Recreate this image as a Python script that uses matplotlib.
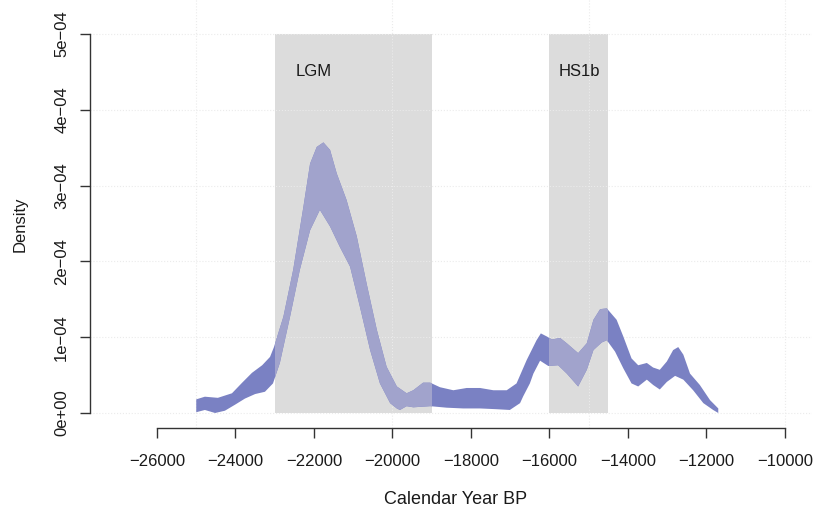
import numpy as np
import matplotlib.pyplot as plt
from matplotlib.patches import Rectangle

plt.rcParams['font.family'] = ['Liberation Sans', 'DejaVu Sans']

# upper / lower envelope of the summed density (units of 1e-4)
years_upper = [-25000, -24780, -24450, -24090, -23830, -23580, -23320, -23120, -23020,
               -22780, -22530, -22270, -22100, -21930, -21760, -21590, -21420, -21170,
               -20910, -20660, -20400, -20150, -19890, -19640, -19470, -19220, -19040,
               -18790, -18450, -18110, -17770, -17430, -17090, -16840, -16580, -16330,
               -16220, -16070, -15940, -15730, -15560, -15270, -15050, -14880, -14710,
               -14540, -14290, -14120, -13910, -13740, -13520, -13360, -13190, -13010,
               -12850, -12720, -12590, -12420, -12170, -11910, -11700]
dens_upper = [0.18, 0.215, 0.20, 0.26, 0.40, 0.53, 0.63, 0.74, 0.87,
              1.27, 1.89, 2.72, 3.29, 3.51, 3.57, 3.47, 3.16, 2.81,
              2.33, 1.71, 1.10, 0.61, 0.35, 0.26, 0.30, 0.40, 0.40,
              0.34, 0.30, 0.33, 0.33, 0.30, 0.30, 0.39, 0.70, 0.96,
              1.05, 1.01, 0.97, 0.99, 0.92, 0.79, 0.92, 1.23, 1.37,
              1.38, 1.23, 1.01, 0.72, 0.63, 0.66, 0.60, 0.57, 0.68,
              0.83, 0.87, 0.77, 0.52, 0.37, 0.17, 0.06]

years_lower = [-25000, -24780, -24520, -24270, -24010, -23760, -23500, -23250, -23120,
               -23045, -22870, -22610, -22360, -22100, -21850, -21590, -21340, -21080,
               -20830, -20570, -20320, -20060, -19890, -19810, -19640, -19470, -19040,
               -18620, -18200, -17770, -17350, -17010, -16750, -16670, -16500, -16410,
               -16240, -16030, -15780, -15560, -15270, -15050, -14880, -14670, -14540,
               -14330, -14120, -13910, -13740, -13520, -13360, -13190, -13010, -12800,
               -12590, -12340, -12080, -11830, -11700]
dens_lower = [0.01, 0.04, 0.00, 0.03, 0.11, 0.19, 0.25, 0.28, 0.35,
              0.39, 0.66, 1.27, 1.89, 2.41, 2.68, 2.46, 2.19, 1.93,
              1.40, 0.83, 0.39, 0.13, 0.06, 0.04, 0.09, 0.075, 0.09,
              0.07, 0.06, 0.06, 0.05, 0.04, 0.13, 0.22, 0.39, 0.52,
              0.69, 0.62, 0.63, 0.52, 0.35, 0.57, 0.83, 0.93, 0.96,
              0.81, 0.59, 0.39, 0.35, 0.44, 0.37, 0.31, 0.41, 0.49,
              0.44, 0.30, 0.13, 0.04, 0.00]

periods = ['LGM', 'HS1b']
period_start = [-23000, -16000]
period_end = [-19000, -14500]
label_x = [-22000, -15250]
label_y = 4.5e-4

xticks = list(range(-26000, -9999, 2000))
yticks = [0, 1e-4, 2e-4, 3e-4, 4e-4, 5e-4]
ytick_labels = ['0e+00', '1e\u221204', '2e\u221204', '3e\u221204', '4e\u221204', '5e\u221204']

fig = plt.figure(figsize=(8.14, 5.09), dpi=100)
ax = fig.add_axes([90 / 814, (509 - 428) / 509, 722 / 814, 428 / 509])
ax.set_xlim(-27707, -9312)
ax.set_ylim(-1.98e-5, 5.449e-4)

# shaded periods
rects = []
for s, e in zip(period_start, period_end):
    r = Rectangle((s, 0), e - s, 5e-4, facecolor='#dcdcdc', edgecolor='none', zorder=1)
    ax.add_patch(r)
    rects.append(r)

# dotted grid
for y in yticks:
    ax.axhline(y, color='#ebebeb', lw=0.8, ls=':', zorder=2)
for x in [-25000, -20000, -15000, -10000]:
    ax.axvline(x, color='#ebebeb', lw=0.8, ls=':', zorder=2)

# density band
px = np.concatenate([years_upper, years_lower[::-1]])
py = np.concatenate([dens_upper, dens_lower[::-1]]) * 1e-4
ax.fill(px, py, color='#7a81c3', lw=0, zorder=3)
for r in rects:
    light = ax.fill(px, py, color='#a1a3cc', lw=0, zorder=4)[0]
    light.set_clip_path(r)

for name, x in zip(periods, label_x):
    ax.text(x, label_y, name, ha='center', va='center', fontsize=12, color='#1a1a1a', zorder=5)

# R-style axes
for side in ['top', 'right']:
    ax.spines[side].set_visible(False)
ax.spines['left'].set_bounds(0, 5e-4)
ax.spines['bottom'].set_bounds(-26000, -10000)
for side in ['left', 'bottom']:
    ax.spines[side].set_color('#333333')
    ax.spines[side].set_linewidth(1)

ax.set_xticks(xticks)
ax.set_xticklabels([f'\u2212{abs(v)}' for v in xticks])
ax.set_yticks(yticks)
ax.set_yticklabels(ytick_labels, rotation=90, va='center')
ax.tick_params(axis='both', length=7, width=1, color='#333333', labelsize=12, labelcolor='#1a1a1a')
ax.tick_params(axis='x', pad=12)
ax.tick_params(axis='y', pad=8)

ax.set_xlabel('Calendar Year BP', fontsize=13, color='#1a1a1a', va='center')
ax.xaxis.set_label_coords(0.507, -0.166)
ax.set_ylabel('Density', fontsize=12, color='#1a1a1a', va='center')
ax.yaxis.set_label_coords(-0.097, 0.477)

fig.savefig('out.png', dpi=100)
